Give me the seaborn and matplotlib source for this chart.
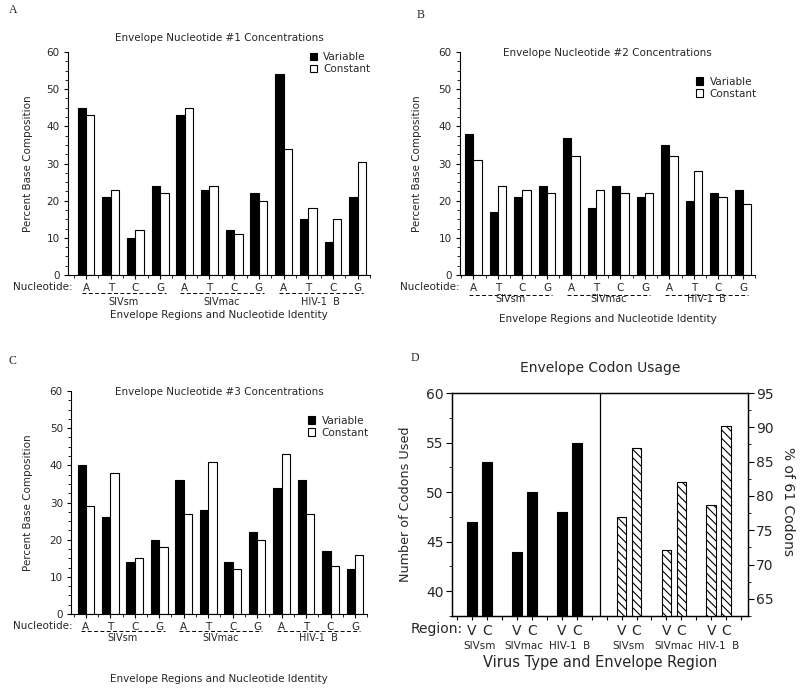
import numpy as np
import pandas as pd
import seaborn as sns
import matplotlib.pyplot as plt
from matplotlib.patches import Patch
from matplotlib.ticker import MultipleLocator
from matplotlib.transforms import blended_transform_factory

# data
viruses = ["SIVsm", "SIVmac", "HIV-1  B"]
nucleotides = ["A", "T", "C", "G"]
regions = ["Variable", "Constant"]

nuc1_variable = [45, 21, 10, 24, 43, 23, 12, 22, 54, 15, 9, 21]
nuc1_constant = [43, 23, 12, 22, 45, 24, 11, 20, 34, 18, 15, 30.5]
nuc2_variable = [38, 17, 21, 24, 37, 18, 24, 21, 35, 20, 22, 23]
nuc2_constant = [31, 24, 23, 22, 32, 23, 22, 22, 32, 28, 21, 19]
nuc3_variable = [40, 26, 14, 20, 36, 28, 14, 22, 34, 36, 17, 12]
nuc3_constant = [29, 38, 15, 18, 27, 41, 12, 20, 43, 27, 13, 16]

codons_used = [47, 53, 44, 50, 48, 55]          # V, C per virus
pct_of_61 = [77.0, 87.0, 72.1, 82.0, 78.7, 90.2]  # V, C per virus

sns.set_theme(style="ticks")
plt.rcParams["font.family"] = ["DejaVu Sans"]
plt.rcParams["hatch.linewidth"] = 0.8

fig = plt.figure(figsize=(8, 6.91), dpi=100)

slots = [v + " " + n for v in viruses for n in nucleotides]
fs = 7.5


def nucleotide_panel(rect, variable, constant, title, title_y, legend_y, xlim,
                     under_y, group_y, xlabel_y, ylabel_x):
    ax = fig.add_axes(rect)
    df = pd.DataFrame({
        "slot": slots * 2,
        "region": ["Variable"] * 12 + ["Constant"] * 12,
        "percent": variable + constant,
    })
    sns.barplot(data=df, x="slot", y="percent", hue="region", order=slots,
                hue_order=regions, palette={"Variable": "black", "Constant": "white"},
                edgecolor="black", linewidth=0.8, width=0.68, saturation=1,
                legend=False, ax=ax)
    ax.set_xlim(*xlim)
    ax.set_ylim(0, 60)
    ax.yaxis.set_major_locator(MultipleLocator(10))
    ax.yaxis.set_minor_locator(MultipleLocator(2.5))
    ax.set_xticks(np.arange(12), labels=nucleotides * 3)
    ax.set_xticks(np.arange(-0.5, 12, 0.5), minor=True)
    ax.tick_params(axis="both", which="major", labelsize=fs, length=3, width=0.8, pad=3, color="black")
    ax.tick_params(axis="both", which="minor", length=2, width=0.6, color="black")
    for s in ["top", "right"]:
        ax.spines[s].set_visible(False)
    for s in ["left", "bottom"]:
        ax.spines[s].set_color("black")
        ax.spines[s].set_linewidth(0.8)

    trans = blended_transform_factory(ax.transData, ax.transAxes)
    ax.text(-0.55, -0.054, "Nucleotide:", transform=trans, ha="right", va="center",
            fontsize=fs)
    for i, v in enumerate(viruses):
        ax.plot([4 * i - 0.18, 4 * i + 3.22], [under_y, under_y], transform=trans,
                color="black", lw=0.7, ls=(0, (4, 2.5)), clip_on=False)
        ax.text(4 * i + 1.5, group_y, v, transform=trans, ha="center", va="center",
                fontsize=7)

    ax.text(0.5, title_y, title, transform=ax.transAxes, ha="center", va="center",
            fontsize=fs)
    handles = [Patch(facecolor="black", edgecolor="black", lw=0.8),
               Patch(facecolor="white", edgecolor="black", lw=0.8)]
    ax.legend(handles, regions, loc="upper left", bbox_to_anchor=(0.8, legend_y),
              frameon=False, handlelength=0.7, handleheight=0.7, handletextpad=0.6,
              labelspacing=0.2, borderpad=0, borderaxespad=0, fontsize=fs)
    ax.set_xlabel("Envelope Regions and Nucleotide Identity", fontsize=fs)
    ax.xaxis.set_label_coords(0.5, xlabel_y)
    ax.set_ylabel("Percent Base Composition", fontsize=fs)
    ax.yaxis.set_label_coords(ylabel_x, 0.5)
    return ax


nucleotide_panel([0.085, 0.602, 0.3775, 0.3227], nuc1_variable, nuc1_constant,
                 "Envelope Nucleotide #1 Concentrations", 1.063, 1.0, (-0.73, 11.5),
                 -0.081, -0.121, -0.157, -0.116)
nucleotide_panel([0.575, 0.602, 0.369, 0.3227], nuc2_variable, nuc2_constant,
                 "Envelope Nucleotide #2 Concentrations", 0.996, 0.89, (-0.55, 11.4),
                 -0.09, -0.108, -0.175, -0.129)
nucleotide_panel([0.089, 0.1114, 0.37, 0.3227], nuc3_variable, nuc3_constant,
                 "Envelope Nucleotide #3 Concentrations", 0.996, 0.89, (-0.6, 11.4),
                 -0.076, -0.108, -0.27, -0.128)

# panel D: codon usage
ax = fig.add_axes([0.565, 0.1085, 0.37, 0.3227])
ax2 = ax.twinx()
left_slots = np.array([3 * i + j for i in range(3) for j in range(2)], dtype=float)
right_slots = left_slots + 10

sns.barplot(x=left_slots, y=codons_used, native_scale=True, color="black",
            edgecolor="black", linewidth=0.8, width=0.65, saturation=1, ax=ax)
sns.barplot(x=right_slots, y=pct_of_61, native_scale=True, color="white",
            edgecolor="black", linewidth=0.8, width=0.65, saturation=1,
            hatch="\\\\\\\\", ax=ax2)

ax.set_xlim(-1.33, 18.45)
ax.set_ylim(37.5, 60)
ax2.set_ylim(62.5, 95)
ax.yaxis.set_major_locator(MultipleLocator(5))
ax.yaxis.set_minor_locator(MultipleLocator(2.5))
ax2.yaxis.set_major_locator(MultipleLocator(5))
ax2.yaxis.set_minor_locator(MultipleLocator(2.5))
all_slots = np.arange(-1, 19)
vc = ["V", "C"]
tick_labels = []
bar_slots = list(left_slots) + list(right_slots)
for s in all_slots:
    if s in bar_slots:
        tick_labels.append(vc[int(s) % 3 if s < 10 else int(s - 10) % 3])
    else:
        tick_labels.append("")
ax.set_xticks(all_slots, labels=tick_labels)
for a in (ax, ax2):
    a.tick_params(axis="both", which="major", labelsize=10, length=4, width=0.8,
                  pad=2, color="black")
    a.tick_params(axis="y", which="minor", length=2.5, width=0.6, color="black")
    for s in a.spines.values():
        s.set_color("black")
        s.set_linewidth(0.9)
ax.tick_params(axis="x", length=3, pad=3)
ax.axvline(8.55, color="black", lw=0.9)

trans = blended_transform_factory(ax.transData, ax.transAxes)
ax.text(-0.6, -0.028, "Region:", transform=trans, ha="right", va="top", fontsize=10)
for i, v in enumerate(viruses):
    for side in (0, 10):
        ax.text(3 * i + 0.5 + side, -0.135, v, transform=trans, ha="center",
                va="center", fontsize=7.5)

ax.text(0.5, 1.112, "Envelope Codon Usage", transform=ax.transAxes, ha="center",
        va="center", fontsize=10)
ax.set_xlabel("Virus Type and Envelope Region", fontsize=10.5)
ax.xaxis.set_label_coords(0.5, -0.175)
ax.set_ylabel("Number of Codons Used", fontsize=9.2)
ax.yaxis.set_label_coords(-0.135, 0.5)
ax2.set_ylabel("% of 61 Codons", fontsize=10, rotation=270, va="center")
ax2.yaxis.set_label_coords(1.135, 0.515)

# panel letters
for letter, x, y in [("A", 0.016, 0.985), ("B", 0.526, 0.978),
                     ("C", 0.016, 0.477), ("D", 0.519, 0.482)]:
    fig.text(x, y, letter, family=["Liberation Serif", "DejaVu Serif"], fontsize=8.5,
             ha="center", va="center")

fig.savefig("out.png", dpi=100)
